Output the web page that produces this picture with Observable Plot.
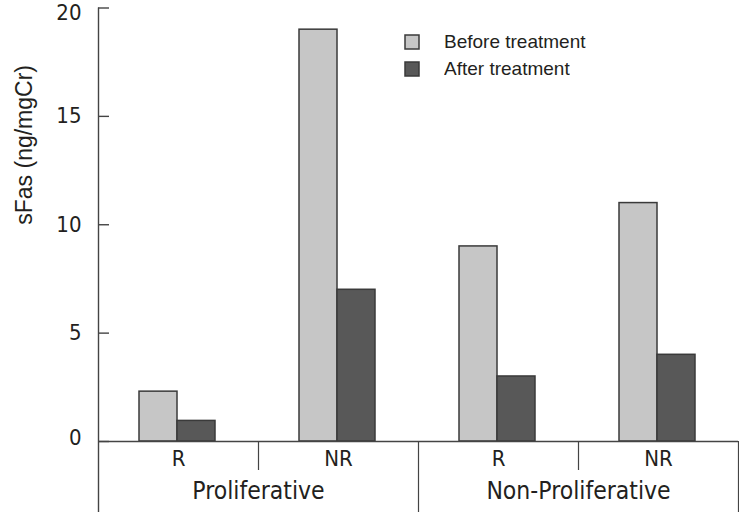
<!DOCTYPE html>
<html>
<head>
<meta charset="utf-8">
<script src="https://cdn.jsdelivr.net/npm/d3@7"></script>
<script src="https://cdn.jsdelivr.net/npm/@observablehq/plot@0.6"></script>
<style>
  html, body { margin: 0; padding: 0; background: #fff; }
  #wrap { position: relative; width: 739px; height: 514px; font-family: "Liberation Sans", Arial, sans-serif; }
  #legend { position: absolute; left: 405px; top: 28px; }
  #legend .lg-swatch { font-family: "Liberation Sans", Arial, sans-serif; font-size: 19px; height: 27px; color: #231f20; padding-bottom: 0 !important; }
  #legend .lg-swatch svg { margin-right: 25px !important; }
  #legend .lg-swatch svg rect { stroke: #3a3a3a; stroke-width: 1.5px; }
</style>
</head>
<body>
<div id="wrap"><div id="chart"></div><div id="legend"></div></div>
<script>
const responses = ["R", "NR", "R", "NR"];
const groups = ["Proliferative", "Proliferative", "Non-Proliferative", "Non-Proliferative"];
const beforeTreatment = [2.3, 19, 9, 11];
const afterTreatment = [0.95, 7, 3, 4];
const seriesNames = ["Before treatment", "After treatment"];
const seriesColors = ["#c6c6c6", "#585858"];
const yTicks = [0, 5, 10, 15, 20];
const yTitle = "sFas (ng/mgCr)";

const table = responses.map((r, i) => ({i, response: r, group: groups[i], before: beforeTreatment[i], after: afterTreatment[i]}));
const groupNames = [...new Set(groups)];
const groupTable = groupNames.map(g => {
  const idx = table.filter(d => d.group === g).map(d => d.i);
  return {group: g, mid: (d3.min(idx) + d3.max(idx) + 1) / 2, end: d3.max(idx) + 1};
});
// boundaries inside a group (short separators) and at group ends (long separators)
const shortSep = table.filter((d, k) => k + 1 < table.length && table[k + 1].group === d.group).map(d => d.i + 1);
const longSep = groupTable.map(g => g.end);

const ink = "#444";
const textInk = "#231f20";
const narrow = "'DejaVu Sans Condensed', 'Liberation Sans', sans-serif";
const yMin = d3.min(yTicks), yMax = d3.max(yTicks);
const tickLabel = (values, dy) => Plot.text(values, {y: d => d, text: d => String(d), frameAnchor: "left", textAnchor: "end", dx: -17, dy, fontSize: 22, fontFamily: narrow, fill: textInk});

const plot = Plot.plot({
  width: 739,
  height: 514,
  marginLeft: 98,
  marginRight: 1,
  marginTop: 7.5,
  marginBottom: 73,
  style: {fontFamily: "'Liberation Sans', Arial, sans-serif", color: textInk, background: "#fff"},
  x: {type: "linear", domain: [0, table.length], axis: null},
  y: {domain: [yMin, yMax], axis: null},
  marks: [
    Plot.rectY(table, {x1: "i", x2: d => d.i + 1, y: "before", fill: seriesColors[0], stroke: "#3a3a3a", strokeWidth: 1.5, insetLeft: 41, insetRight: 81}),
    Plot.rectY(table, {x1: "i", x2: d => d.i + 1, y: "after", fill: seriesColors[1], stroke: "#3a3a3a", strokeWidth: 1.5, insetLeft: 79, insetRight: 43}),
    Plot.ruleY([0], {stroke: ink, strokeWidth: 1.4}),
    Plot.ruleX([0], {stroke: ink, strokeWidth: 1.4, insetBottom: -71}),
    Plot.ruleX(shortSep, {x: d => d, y1: 0, y2: 0, insetBottom: -29, stroke: ink, strokeWidth: 1.2}),
    Plot.ruleX(longSep, {x: d => d, y1: 0, y2: 0, insetBottom: -71, stroke: ink, strokeWidth: 1.2}),
    Plot.axisY({ticks: yTicks, tickSize: -11, stroke: ink, strokeWidth: 1.4, label: null, tickFormat: () => ""}),
    tickLabel(yTicks.filter(t => t > yMin && t < yMax), 0),
    tickLabel([yMax], 5),
    tickLabel([yMin], -4),
    Plot.text(table, {x: d => d.i + 0.5, text: "response", frameAnchor: "bottom", dy: 24, fontSize: 22, fontFamily: narrow, fill: textInk}),
    Plot.text(groupTable, {x: "mid", text: "group", frameAnchor: "bottom", dy: 57, fontSize: 24.5, fontFamily: narrow, fill: textInk}),
    Plot.text([yTitle], {frameAnchor: "left", rotate: -90, dx: -74, fontSize: 23, fill: textInk})
  ]
});
document.getElementById("chart").appendChild(plot);

const legend = Plot.legend({
  color: {type: "ordinal", domain: seriesNames, range: seriesColors},
  legend: "swatches",
  columns: 1,
  swatchSize: 14,
  className: "lg"
});
document.getElementById("legend").appendChild(legend);
</script>
</body>
</html>
